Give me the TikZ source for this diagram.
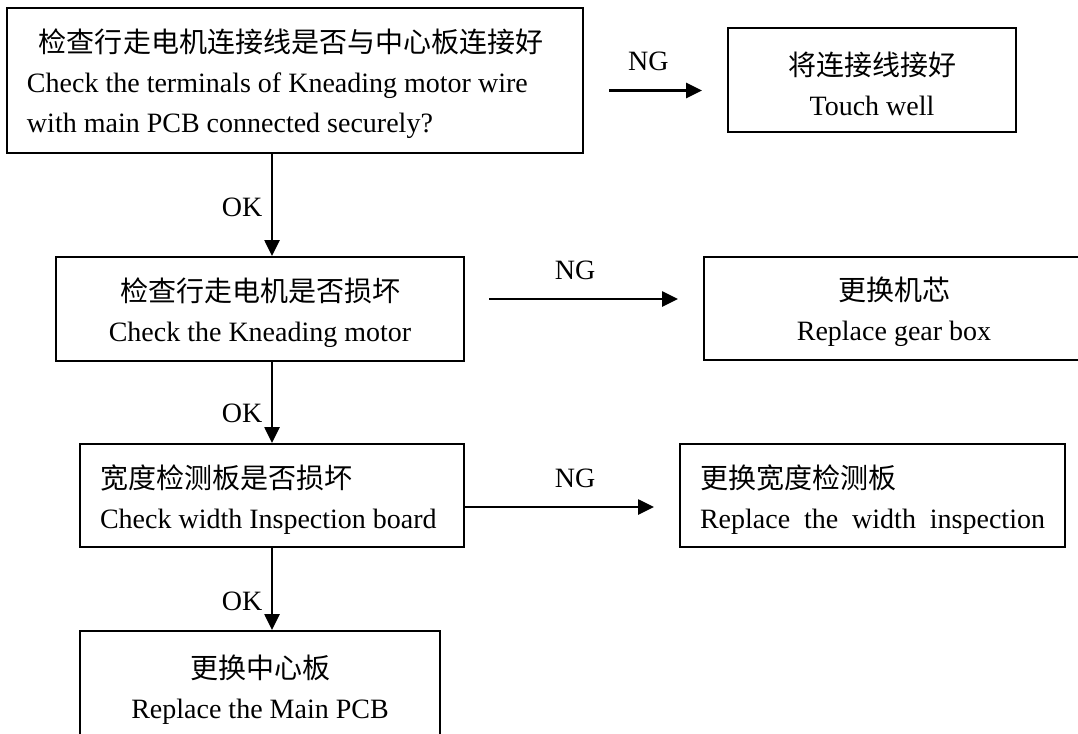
\documentclass[tikz,border=0pt]{standalone}
\usepackage{fontspec}
\setmainfont{Liberation Serif}
\newfontfamily\cjk{Noto Sans CJK SC}
\usetikzlibrary{arrows.meta}
\newcommand{\topgap}{\rule{0pt}{31pt}}

\begin{document}
\begin{tikzpicture}[x=1pt,y=-1pt,
	box/.style={draw,line width=2pt,inner ysep=0pt,minimum height=103pt,font=\fontsize{28}{40}\selectfont},
	ngarrow/.style={line width=2.6pt,-{Triangle[length=16pt,width=15pt]}},
	okarrow/.style={line width=2.6pt,-{Triangle[length=16pt,width=15pt]}},
	tag/.style={font=\fontsize{28}{34}\selectfont}]
			\useasboundingbox (0,0) rectangle (1078,733);
			\clip (0,0) rectangle (1078,733);
			%print boxes
			\node[box,align=flush left,text width=536pt,inner xsep=20pt,minimum height=145pt] (chk_wire) at (295,80.5)
				{\topgap\hspace*{12pt}{\cjk 检查行走电机连接线是否与中心板连接好}\\Check the terminals of Kneading motor wire\\with main PCB connected securely?};
			\node[box,align=center,minimum width=288pt,minimum height=104pt] (fix_wire) at (872,80)
				{\topgap{\cjk 将连接线接好}\\Touch well};
			\node[box,align=center,minimum width=408pt,minimum height=104pt] (chk_motor) at (260,309)
				{\topgap{\cjk 检查行走电机是否损坏}\\Check the Kneading motor};
			\node[box,align=center,minimum width=380pt] (new_gear) at (894,308.5)
				{\topgap{\cjk 更换机芯}\\Replace gear box};
			\node[box,align=flush left,text width=344pt,inner xsep=20pt] (chk_board) at (272,495.5)
				{\topgap{\cjk 宽度检测板是否损坏}\\Check width Inspection board};
			\node[box,align=flush left,text width=345pt,inner xsep=20pt] (new_board) at (872.5,495.5)
				{\topgap{\cjk 更换宽度检测板}\\Replace\ \ the\ \ width\ \ inspection};
			\node[box,align=center,minimum width=360pt,minimum height=110pt] (new_pcb) at (260,686)
				{\topgap{\cjk 更换中心板}\\Replace the Main PCB};
			%NG arrows
			\draw[ngarrow,shorten <=25pt,shorten >=25pt] ([yshift=-10pt]chk_wire.east) -- ([yshift=-10pt]chk_wire.east -| fix_wire.west)
				node[tag,pos=0.45,above=15pt] {NG};
			\draw[ngarrow,shorten <=24pt,shorten >=25pt] ([yshift=10pt]chk_motor.east) -- ([yshift=10pt]chk_motor.east -| new_gear.west)
				node[tag,pos=0.4625,above=15pt] {NG};
			\draw[ngarrow,shorten >=25pt] ([yshift=-11.5pt]chk_board.east) -- ([yshift=-11.5pt]chk_board.east -| new_board.west)
				node[tag,pos=0.514,above=15pt] {NG};
			%OK arrows
			\draw[okarrow] (chk_wire.south -| chk_board.north) -- (chk_motor.north -| chk_board.north)
				node[tag,pos=0.52,left=5pt] {OK};
			\draw[okarrow] (chk_motor.south -| chk_board.north) -- (chk_board.north)
				node[tag,pos=0.64,left=5pt] {OK};
			\draw[okarrow] (chk_board.south) -- (chk_board.south |- new_pcb.north)
				node[tag,pos=0.65,left=5pt] {OK};
		\end{tikzpicture}
\end{document}
